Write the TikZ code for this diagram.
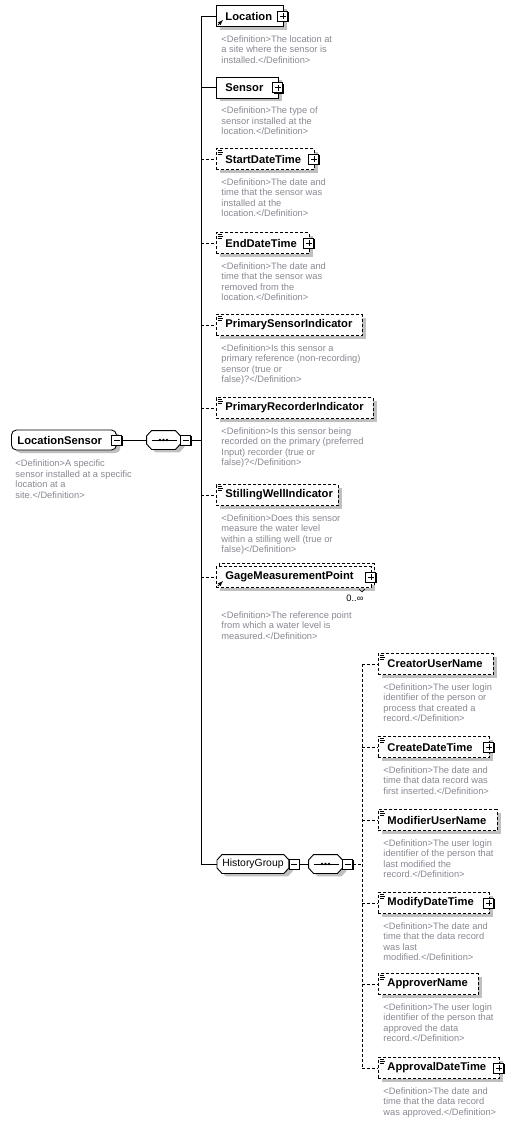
\documentclass[tikz,border=0pt]{standalone}
\usepackage{fontspec}
\setmainfont{Liberation Sans}
\usetikzlibrary{shadows,calc,backgrounds}
\definecolor{defgray}{RGB}{136,136,146}
\definecolor{shadowgray}{RGB}{192,192,192}
\newcommand{\seqdots}[1]{\draw ($(#1.west)+(5,0)$) -- ($(#1.east)+(-3,0)$); \foreach \dx in {-3.5,0,3.5} \fill ($(#1.center)+(\dx,0)$) circle (1.3);}
\newcommand{\typeicon}[1]{\draw[line width=0.7pt] ($(#1.north west)+(1.5,2)$) -- +(4.5,0) ($(#1.north west)+(1.5,4)$) -- +(5.5,0) ($(#1.north west)+(1.5,6)$) -- +(4.5,0);}
\newcommand{\refarrow}[1]{\draw[->,line width=0.8pt] ($(#1.south west)+(2,-2)$) -- +(5,-5);}
\newcommand{\octa}[1]{\begin{scope}[on background layer]
	\draw[line width=0.9pt,fill=white,shade] ($(#1.west)+(0,-4)$) -- ($(#1.north west)+(5,0)$) -- ($(#1.north east)+(-5,0)$) -- ($(#1.east)+(0,-4)$) -- ($(#1.east)+(0,4)$) -- ($(#1.south east)+(-5,0)$) -- ($(#1.south west)+(5,0)$) -- ($(#1.west)+(0,4)$) -- cycle;
	\end{scope}}
\begin{document}
\begin{tikzpicture}[x=1pt,y=-1pt,>=latex,line width=0.9pt,
	shade/.style={drop shadow={shadow xshift=4pt,shadow yshift=-3pt,fill=shadowgray,opacity=1}},
	dashline/.style={dash pattern=on 3pt off 2pt},
	elem/.style={draw,fill=white,shade,anchor=west,minimum height=21pt,inner xsep=9pt,inner ysep=2pt,text width=#1pt,align=left,font=\fontsize{11.2}{13}\selectfont\bfseries},
	optelem/.style={elem=#1,dashline},
	rootelem/.style={draw,fill=white,shade,rounded corners=5pt,anchor=west,minimum height=20pt,inner xsep=6pt,text width=93pt,align=left,font=\fontsize{11.2}{13}\selectfont\bfseries},
	seqbox/.style={minimum width=33pt,minimum height=18pt,inner sep=0pt},
	groupbox/.style={anchor=west,minimum width=71pt,minimum height=18pt,inner xsep=2pt,font=\fontsize{10.4}{12}\selectfont},
	defn/.style={anchor=north west,inner sep=0pt,align=left,text=defgray,font=\fontsize{9.3}{10.5}\selectfont},
	plusbox/.style={draw,fill=white,minimum size=10pt,inner sep=0pt,drop shadow={shadow xshift=1pt,shadow yshift=-1pt,fill=black,opacity=1},
		path picture={\draw[line width=0.8pt] ([xshift=2pt]path picture bounding box.west) -- ([xshift=-2pt]path picture bounding box.east) ([yshift=-2pt]path picture bounding box.north) -- ([yshift=2pt]path picture bounding box.south);}},
	minusbox/.style={draw,fill=white,minimum size=10pt,inner sep=0pt,drop shadow={shadow xshift=1pt,shadow yshift=-1pt,fill=black,opacity=1},
		path picture={\draw[line width=0.8pt] ([xshift=2pt]path picture bounding box.west) -- ([xshift=-2pt]path picture bounding box.east);}}]
	\useasboundingbox (0,0) rectangle (514,1122);
	% root element and its sequence
	\node[rootelem] (root) at (11,440) {LocationSensor};
	\node[minusbox] (root-m) at (root.east) {};
	\node[defn] (root-def) at ($(root.south west)+(4,9)$) {<Definition>A specific\\sensor installed at a specific\\location at a\\site.</Definition>};
	\node[seqbox] (seq) at (163.5,440) {};\octa{seq}\seqdots{seq}
	\node[minusbox,anchor=west] (seq-m) at (seq.east) {};
	\draw (root-m) -- (seq);
	\coordinate (spine) at ($(seq-m.east)+(10,0)$);
	% children
	\node[elem=49] (location) at (216,16) {Location};\refarrow{location}
	\node[plusbox] (location-p) at ($(location.east)+(-1,0)$) {};
	\node[defn] (location-def) at ($(location.south west)+(5,8)$) {<Definition>The location at\\a site where the sensor is\\installed.</Definition>};
	\node[elem=44] (sensor) at (216,87.5) {Sensor};
	\node[plusbox] (sensor-p) at ($(sensor.east)+(-1,0)$) {};
	\node[defn] (sensor-def) at ($(sensor.south west)+(5,8)$) {<Definition>The type of\\sensor installed at the\\location.</Definition>};
	\node[optelem=80] (startdt) at (216,159) {StartDateTime};\typeicon{startdt}
	\node[plusbox] (startdt-p) at ($(startdt.east)+(-1,0)$) {};
	\node[defn] (startdt-def) at ($(startdt.south west)+(5,8)$) {<Definition>The date and\\time that the sensor was\\installed at the\\location.</Definition>};
	\node[optelem=75] (enddt) at (216,243) {EndDateTime};\typeicon{enddt}
	\node[plusbox] (enddt-p) at ($(enddt.east)+(-1,0)$) {};
	\node[defn] (enddt-def) at ($(enddt.south west)+(5,8)$) {<Definition>The date and\\time that the sensor was\\removed from the\\location.</Definition>};
	\node[optelem=128] (primsensor) at (216,325) {PrimarySensorIndicator};\typeicon{primsensor}
	\node[defn] (primsensor-def) at ($(primsensor.south west)+(5,8)$) {<Definition>Is this sensor a\\primary reference (non-recording)\\sensor (true or\\false)?</Definition>};
	\node[optelem=139] (primrecorder) at (216,408) {PrimaryRecorderIndicator};\typeicon{primrecorder}
	\node[defn] (primrecorder-def) at ($(primrecorder.south west)+(5,8)$) {<Definition>Is this sensor being\\recorded on the primary (preferred\\Input) recorder (true or\\false)?</Definition>};
	\node[optelem=104] (stillwell) at (216,495) {StillingWellIndicator};\typeicon{stillwell}
	\node[defn] (stillwell-def) at ($(stillwell.south west)+(5,8)$) {<Definition>Does this sensor\\measure the water level\\within a stilling well (true or\\false)</Definition>};
	\node[optelem=137,general shadow={shadow xshift=3pt,shadow yshift=3pt,draw=black,fill=white,dash pattern=on 3pt off 2pt}] (gagepoint) at (216,577) {GageMeasurementPoint};\refarrow{gagepoint}
	\node[plusbox] (gagepoint-p) at ($(gagepoint.east)+(-1,0)$) {};
	\draw[line width=0.6pt] ($(gagepoint.south east)+(-13,1)$) -- +(3,3) -- +(6,0);
	\node[anchor=east,inner sep=0pt,font=\fontsize{9.3}{11}\selectfont] (gagepoint-occ) at ($(gagepoint.south east)+(-8,10)$) {0..∞};
	\node[defn] (gagepoint-def) at ($(gagepoint.south west)+(5,23)$) {<Definition>The reference point\\from which a water level is\\measured.</Definition>};
	\node[groupbox] (historygrp) at (217,864) {HistoryGroup};\octa{historygrp}
	\node[minusbox,anchor=west] (historygrp-m) at (historygrp.east) {};
	\node[seqbox] (hseq) at (325.5,864) {};\octa{hseq}\seqdots{hseq}
	\node[minusbox,anchor=west] (hseq-m) at (hseq.east) {};
	\draw (historygrp-m) -- (hseq);
	\coordinate (hspine) at ($(hseq-m.east)+(9,0)$);
	\draw (seq-m.east) -- (spine) (spine |- location.west) -- (spine |- historygrp.west);
	\draw (spine |- location.west) -- (location.west) (spine |- sensor.west) -- (sensor.west) (spine |- historygrp.west) -- (historygrp.west);
	\foreach \n in {startdt,enddt,primsensor,primrecorder,stillwell,gagepoint} \draw[dashline] (spine |- \n.west) -- (\n.west);
	% history group members
	\node[optelem=97] (creator) at (378,664) {CreatorUserName};\typeicon{creator}
	\node[defn] (creator-def) at ($(creator.south west)+(5,8)$) {<Definition>The user login\\identifier of the person or\\process that created a\\record.</Definition>};
	\node[optelem=93] (createdt) at (378,747) {CreateDateTime};\typeicon{createdt}
	\node[plusbox] (createdt-p) at ($(createdt.east)+(-1,0)$) {};
	\node[defn] (createdt-def) at ($(createdt.south west)+(5,8)$) {<Definition>The date and\\time that data record was\\first inserted.</Definition>};
	\node[optelem=101] (modifier) at (378,820) {ModifierUserName};\typeicon{modifier}
	\node[defn] (modifier-def) at ($(modifier.south west)+(5,8)$) {<Definition>The user login\\identifier of the person that\\last modified the\\record.</Definition>};
	\node[optelem=93] (modifydt) at (378,903) {ModifyDateTime};\typeicon{modifydt}
	\node[plusbox] (modifydt-p) at ($(modifydt.east)+(-1,0)$) {};
	\node[defn] (modifydt-def) at ($(modifydt.south west)+(5,8)$) {<Definition>The date and\\time that the data record\\was last\\modified.</Definition>};
	\node[optelem=82] (approver) at (378,984) {ApproverName};\typeicon{approver}
	\node[defn] (approver-def) at ($(approver.south west)+(5,8)$) {<Definition>The user login\\identifier of the person that\\approved the data\\record.</Definition>};
	\node[optelem=103] (approvaldt) at (378,1068) {ApprovalDateTime};\typeicon{approvaldt}
	\node[plusbox] (approvaldt-p) at ($(approvaldt.east)+(-1,0)$) {};
	\node[defn] (approvaldt-def) at ($(approvaldt.south west)+(5,8)$) {<Definition>The date and\\time that the data record\\was approved.</Definition>};
	\draw[dashline] (hseq-m.east) -- (hspine) (hspine |- creator.west) -- (hspine |- approvaldt.west);
	\foreach \n in {creator,createdt,modifier,modifydt,approver,approvaldt} \draw[dashline] (hspine |- \n.west) -- (\n.west);
\end{tikzpicture}
\end{document}
